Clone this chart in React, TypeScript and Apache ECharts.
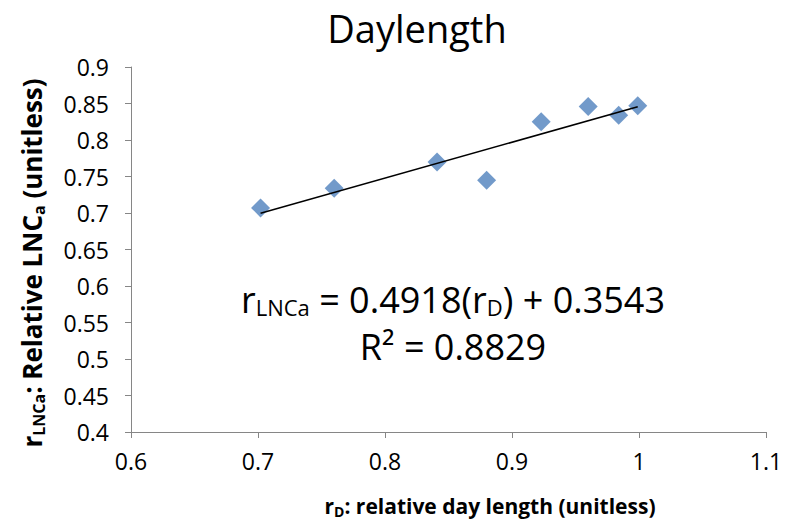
import React, { useEffect, useRef } from "react";
import * as echarts from "echarts";

const xValues = [0.702, 0.76, 0.841, 0.88, 0.923, 0.96, 0.984, 0.999];
const yValues = [0.707, 0.734, 0.77, 0.745, 0.825, 0.846, 0.834, 0.847];
const slope = 0.4918;
const intercept = 0.3543;
const rSquared = 0.8829;

const FONT = "'Open Sans', 'Noto Sans', sans-serif";

export default function App() {
  const ref = useRef<HTMLDivElement>(null);
  useEffect(() => {
    if (!ref.current) return;
    const chart = echarts.init(ref.current, null, { renderer: "svg" });
    const xMin = Math.min(...xValues);
    const xMax = Math.max(...xValues);
    const trend = [
      [xMin, slope * xMin + intercept],
      [xMax, slope * xMax + intercept],
    ];
    const axisColor = "#868686";
    const boldRich = (size: number, sub: number, pad: number) => ({
      n: { fontSize: size, fontWeight: "bold", fontFamily: FONT, fill: "#000" },
      s: { fontSize: sub, fontWeight: "bold", fontFamily: FONT, fill: "#000", verticalAlign: "bottom", padding: [pad, 0, 0, 0] },
    });
    chart.setOption({
      animation: false,
      backgroundColor: "#ffffff",
      textStyle: { fontFamily: FONT },
      grid: { left: 131, right: 28, top: 67, bottom: 94 },
      xAxis: {
        type: "value",
        min: 0.6,
        max: 1.1,
        interval: 0.1,
        splitLine: { show: false },
        axisLine: { show: true, lineStyle: { color: axisColor } },
        axisTick: { show: true, length: 6, lineStyle: { color: axisColor } },
        axisLabel: {
          color: "#000",
          fontSize: 23,
          fontFamily: FONT,
          margin: 17,
          formatter: (v: number) => String(Math.round(v * 10) / 10),
        },
      },
      yAxis: {
        type: "value",
        min: 0.4,
        max: 0.9,
        interval: 0.05,
        splitLine: { show: false },
        axisLine: { show: true, lineStyle: { color: axisColor } },
        axisTick: { show: true, length: 6, lineStyle: { color: axisColor } },
        axisLabel: {
          color: "#000",
          fontSize: 23,
          fontFamily: FONT,
          margin: 22,
          formatter: (v: number) => String(Math.round(v * 100) / 100),
        },
      },
      series: [
        {
          type: "scatter",
          data: xValues.map((x, i) => [x, yValues[i]]),
          symbol: "diamond",
          symbolSize: 19,
          itemStyle: { color: "#4F81BD" },
          z: 2,
        },
        {
          type: "line",
          data: trend,
          symbol: "none",
          lineStyle: { color: "#000", width: 1.5 },
          z: 3,
        },
      ],
      graphic: [
        {
          type: "text",
          x: 417,
          y: 28,
          style: {
            text: "Daylength",
            fontSize: 38,
            fontFamily: FONT,
            fill: "#000",
            textAlign: "center",
            textVerticalAlign: "middle",
          },
        },
        {
          type: "text",
          x: 490,
          y: 506,
          style: {
            text: "{n|r}{s|D}{n|: relative day length (unitless)}",
            textAlign: "center",
            textVerticalAlign: "middle",
            rich: boldRich(21, 14, 11),
          },
        },
        {
          type: "text",
          x: 32,
          y: 263,
          rotation: Math.PI / 2,
          style: {
            text: "{n|r}{s|LNCa}{n|: Relative LNC}{s|a}{n| (unitless)}",
            textAlign: "center",
            textVerticalAlign: "middle",
            rich: boldRich(26, 16, 14),
          },
        },
        {
          type: "text",
          x: 453,
          y: 299,
          style: {
            text: "{t|r}{sub|LNCa}{t| = 0.4918(r}{sub|D}{t|) + 0.3543}",
            textAlign: "center",
            textVerticalAlign: "middle",
            rich: {
              t: { fontSize: 36, fontFamily: FONT, fill: "#000", lineHeight: 38 },
              sub: { fontSize: 22, fontFamily: FONT, fill: "#000", verticalAlign: "bottom", padding: [16, 0, 0, 0] },
            },
          },
        },
        {
          type: "text",
          x: 453,
          y: 346,
          style: {
            text: "R² = " + rSquared.toFixed(4),
            fontSize: 36,
            lineHeight: 36,
            fontFamily: FONT,
            fill: "#000",
            textAlign: "center",
            textVerticalAlign: "middle",
          },
        },
      ],
    });
    return () => chart.dispose();
  }, []);
  return <div ref={ref} style={{ width: 794, height: 526, position: "absolute", left: 0, top: 0 }} />;
}
